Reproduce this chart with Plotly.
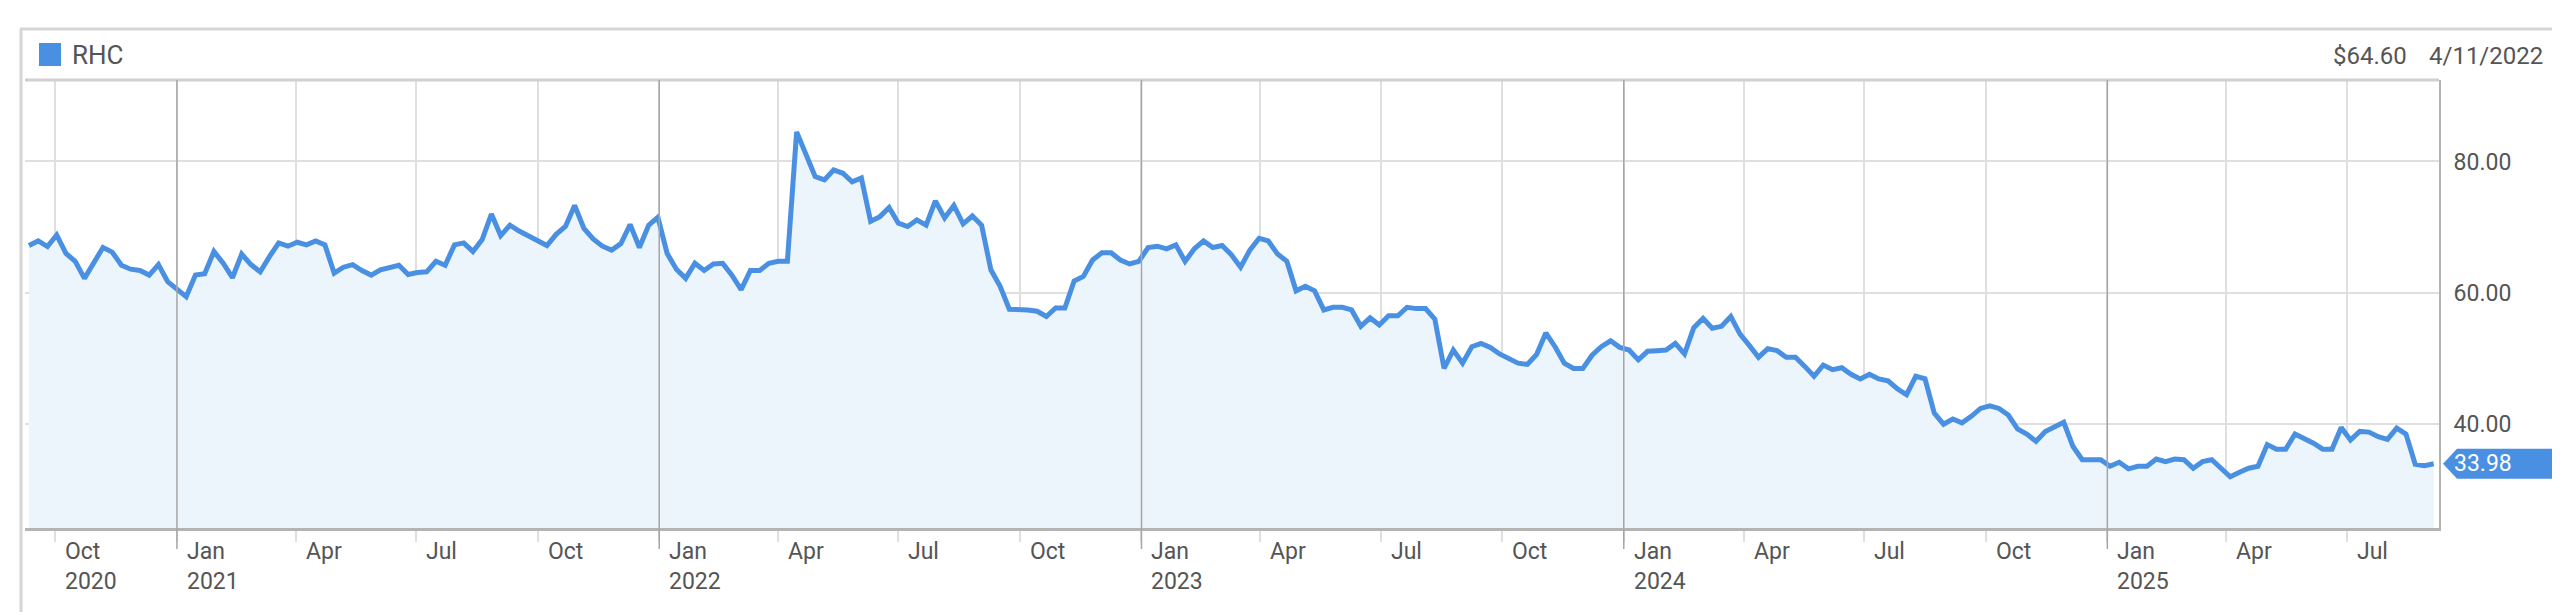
import pandas as pd
import plotly.graph_objects as go

# weekly closes, first week 2020-09-11
prices = [
    67.2, 67.9, 67.05, 68.8, 66.0, 64.8, 62.2, 64.5, 66.9, 66.2, 64.2, 63.6, 63.4, 62.7, 64.3, 61.7,
    60.5, 59.4, 62.7, 62.9, 66.3, 64.5, 62.3, 65.9, 64.3, 63.2, 65.5, 67.6, 67.1, 67.7, 67.3, 67.9, 67.3,
    63.0, 63.9, 64.3, 63.4, 62.7, 63.5, 63.9, 64.2, 62.8, 63.1, 63.2, 64.8, 64.2, 67.3, 67.6, 66.3,
    68.1, 72.0, 68.7, 70.3, 69.4, 68.6, 67.9, 67.2, 68.9, 70.1, 73.3, 69.8, 68.2, 67.1, 66.5, 67.5,
    70.4, 66.9, 70.3, 71.5, 66.0, 63.6, 62.2, 64.5, 63.4, 64.4, 64.5, 62.7, 60.5, 63.4, 63.4, 64.5,
    64.8, 64.8, 84.5, 81.0, 77.7, 77.2, 78.7, 78.2, 76.9, 77.5, 70.9, 71.6, 73.0, 70.6, 70.1, 71.1, 70.3,
    74.0, 71.4, 73.3, 70.5, 71.7, 70.3, 63.5, 61.0, 57.5, 57.5, 57.4, 57.2, 56.4, 57.7, 57.7, 61.8,
    62.5, 65.0, 66.1, 66.1, 65.0, 64.4, 64.8, 66.9, 67.1, 66.7, 67.3, 64.8, 66.7, 67.9, 66.9, 67.2,
    65.8, 63.9, 66.5, 68.3, 67.9, 65.9, 64.8, 60.3, 61.0, 60.3, 57.4, 57.8, 57.8, 57.4, 54.9, 56.2,
    55.1, 56.5, 56.5, 57.8, 57.6, 57.6, 56.0, 48.5, 51.3, 49.3, 51.8, 52.3, 51.7, 50.7, 50.1, 49.3,
    49.1, 50.6, 53.9, 51.8, 49.3, 48.5, 48.5, 50.5, 51.8, 52.7, 51.7, 51.3, 49.8, 51.1, 51.2, 51.3,
    52.3, 50.7, 54.7, 56.1, 54.6, 54.9, 56.4, 53.7, 52.0, 50.2, 51.5, 51.2, 50.2, 50.2, 48.8, 47.3, 49.0,
    48.3, 48.6, 47.6, 46.9, 47.6, 46.9, 46.6, 45.4, 44.5, 47.3, 46.9, 41.7, 40.0, 40.8, 40.2, 41.2,
    42.4, 42.8, 42.4, 41.4, 39.3, 38.5, 37.4, 38.9, 39.5, 40.3, 36.6, 34.6, 34.6, 34.6, 33.6, 34.2,
    33.2, 33.6, 33.6, 34.7, 34.3, 34.7, 34.6, 33.3, 34.3, 34.6, 33.3, 32.0, 32.7, 33.3, 33.6, 36.9,
    36.2, 36.2, 38.5, 37.9, 37.1, 36.2, 36.2, 39.5, 37.6, 38.9, 38.8, 38.1, 37.7, 39.4, 38.5, 33.9,
    33.7, 33.98,
]
start_date = "2020-09-11"
dates = pd.date_range(start_date, periods=len(prices), freq="7D")

ticker = "RHC"
hover_price = "$64.60"
hover_date = "4/11/2022"
last_label = "33.98"

y_ticks = [40, 60, 80]
y_ticktext = ["40.00", "60.00", "80.00"]
quarter_ticks = pd.date_range("2020-10-01", "2025-07-01", freq="QS")
quarter_names = {1: "Jan", 4: "Apr", 7: "Jul", 10: "Oct"}

blue = "#4a90e2"
fill_blue = "#ecf4fc"
grid = "#dfdfdf"
text_gray = "#555555"
font = "Roboto"

W, H = 2560, 612
L, R, T, B = 17, 2431, 72, 520   # plot box in pixels


def fx(px):
    return (px - L) / (R - L)


def fy(py):
    return (B - py) / (B - T)


fig = go.Figure()
fig.add_trace(go.Scatter(x=dates, y=prices, mode="lines",
                         line=dict(color=blue, width=5),
                         fill="tozeroy", fillcolor=fill_blue,
                         showlegend=False, hoverinfo="skip"))

shapes = []
annotations = []

# outer frame
frame = dict(type="line", xref="paper", yref="paper", line=dict(color="#d6d6d6", width=3))
shapes.append(dict(frame, x0=fx(12), x1=fx(2557), y0=fy(21), y1=fy(21)))
shapes.append(dict(frame, x0=fx(13), x1=fx(13), y0=fy(21), y1=fy(612)))
shapes.append(dict(frame, x0=fx(2557), x1=fx(2557), y0=fy(21), y1=fy(612)))
# header separator / plot top
shapes.append(dict(type="line", xref="paper", yref="paper", x0=0, x1=1, y0=1, y1=1,
                   line=dict(color="#d0d0d0", width=3)))
# legend square
shapes.append(dict(type="rect", xref="paper", yref="paper", x0=fx(31), x1=fx(53),
                   y0=fy(58), y1=fy(35), fillcolor=blue, line=dict(width=0)))

annotations.append(dict(text=ticker, xref="paper", yref="paper", x=fx(62), y=fy(47),
                        xanchor="left", yanchor="middle", showarrow=False,
                        font=dict(family=font, size=26, color=text_gray)))
annotations.append(dict(text=hover_price, xref="paper", yref="paper", x=fx(2401), y=fy(48),
                        xanchor="right", yanchor="middle", showarrow=False,
                        font=dict(family=font, size=24, color=text_gray)))
annotations.append(dict(text=hover_date, xref="paper", yref="paper", x=fx(2537), y=fy(48),
                        xanchor="right", yanchor="middle", showarrow=False,
                        font=dict(family=font, size=24, color=text_gray)))

# quarter labels, year gridlines
for i, d in enumerate(quarter_ticks):
    annotations.append(dict(text=quarter_names[d.month], x=d, xref="x", y=0, yref="paper",
                            xanchor="left", yanchor="middle", xshift=8, yshift=-23,
                            showarrow=False, font=dict(family=font, size=23, color=text_gray)))
    if d.month == 1 or i == 0:
        annotations.append(dict(text=str(d.year), x=d, xref="x", y=0, yref="paper",
                                xanchor="left", yanchor="middle", xshift=8, yshift=-53,
                                showarrow=False, font=dict(family=font, size=23, color=text_gray)))
    if d.month == 1:
        shapes.append(dict(type="line", xref="x", yref="paper", x0=d, x1=d,
                           y0=-21 / (B - T), y1=1, line=dict(color="#a6a6a6", width=1.5)))

# last price marker
shapes.append(dict(type="path", xref="paper", yref="y", xsizemode="pixel", ysizemode="pixel",
                   xanchor=1, yanchor=prices[-1],
                   path="M 4,0 L 18,15 L 118,15 L 118,-15 L 18,-15 Z",
                   fillcolor=blue, line=dict(width=0)))
annotations.append(dict(text=last_label, xref="paper", yref="y", x=1, y=prices[-1],
                        xanchor="center", yanchor="middle", xshift=44, showarrow=False,
                        font=dict(family=font, size=23, color="white")))

fig.update_layout(
    width=W, height=H,
    margin=dict(l=L, r=W - R, t=T, b=H - B, pad=0),
    paper_bgcolor="white", plot_bgcolor="white",
    shapes=shapes, annotations=annotations,
)
fig.update_xaxes(type="date", range=["2020-09-08", "2025-09-09"],
                 tickvals=quarter_ticks, showticklabels=False,
                 showgrid=True, gridcolor=grid, gridwidth=2,
                 ticks="outside", ticklen=11, tickcolor=grid, tickwidth=2,
                 showline=True, linecolor="#b4b4b4", linewidth=3, zeroline=False)
fig.update_yaxes(side="right", range=[24.2, 92.4], tickvals=y_ticks, ticktext=y_ticktext,
                 showgrid=True, gridcolor=grid, gridwidth=2, zeroline=False,
                 showline=True, linecolor="#b4b4b4", linewidth=2,
                 ticks="", ticklabelstandoff=8,
                 tickfont=dict(family=font, size=23, color=text_gray))

fig.write_html("out.html")
